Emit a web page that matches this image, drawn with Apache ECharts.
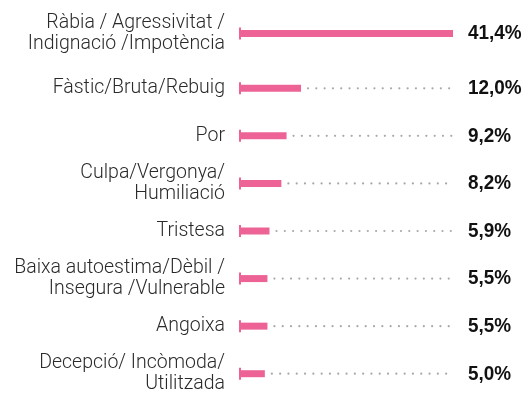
<!DOCTYPE html>
<html>
<head>
<meta charset="utf-8">
<script src="https://cdn.jsdelivr.net/npm/echarts@6/dist/echarts.min.js"></script>
<style>
  html, body { margin: 0; padding: 0; background: #fff; }
  #chart { width: 529px; height: 396px; }
</style>
</head>
<body>
<div id="chart"></div>
<script>
// Emotions and their share of responses (%)
const categories = [
  'Ràbia / Agressivitat /\nIndignació /Impotència',
  'Fàstic/Bruta/Rebuig',
  'Por',
  'Culpa/Vergonya/\nHumiliació',
  'Tristesa',
  'Baixa autoestima/Dèbil /\nInsegura /Vulnerable',
  'Angoixa',
  'Decepció/ Incòmoda/\nUtilitzada'
];
const values = [41.4, 12.0, 9.2, 8.2, 5.9, 5.5, 5.5, 5.0];
const valueLabels = values.map(v => v.toFixed(1).replace('.', ',') + '%');

const PINK = '#ED6396';
const maxValue = Math.max(...values);

// The leading item sits in its own band with a little extra room below it.
const groups = [
  { from: 0, to: 1, top: 10, height: 47 },
  { from: 1, to: values.length, top: 64.5, height: 333 }
];

const grids = [], xAxes = [], yAxes = [], series = [];

groups.forEach((g, gi) => {
  const cats = categories.slice(g.from, g.to);
  const vals = values.slice(g.from, g.to);
  const labels = valueLabels.slice(g.from, g.to);

  grids.push({
    left: 239, right: 76, top: g.top, height: g.height,
    containLabel: false, outerBoundsMode: 'none'
  });
  xAxes.push({ gridIndex: gi, type: 'value', min: 0, max: maxValue, show: false });
  yAxes.push({
    gridIndex: gi, type: 'category', data: cats, inverse: true,
    axisLine: { show: false }, axisTick: { show: false }, splitLine: { show: false },
    axisLabel: {
      margin: 14, align: 'right',
      color: '#2a2a2a', fontSize: 19.5, lineHeight: 21,
      fontFamily: 'Roboto, Liberation Sans, sans-serif', fontWeight: 300
    }
  });

  series.push({
    // start cap, dotted leader to the right edge, and the value label
    type: 'custom',
    xAxisIndex: gi, yAxisIndex: gi,
    data: vals.map((v, i) => [v, i]),
    renderItem: function (params, api) {
      const v = api.value(0);
      const idx = api.value(1);
      const end = api.coord([v, idx]);
      const right = api.coord([maxValue, idx]);
      const start = api.coord([0, idx]);
      const children = [
        {
          type: 'rect',
          shape: { x: start[0], y: start[1] - 6, width: 2, height: 12 },
          style: { fill: PINK }
        },
        {
          type: 'text',
          x: right[0] + 15,
          y: end[1],
          scaleX: 0.9,
          style: {
            text: labels[idx],
            fill: '#111',
            fontSize: 21,
            fontWeight: 'bold',
            fontFamily: 'Liberation Sans, Arial, sans-serif',
            align: 'left',
            verticalAlign: 'middle'
          }
        }
      ];
      for (let x = end[0] + 7; x <= right[0] - 0.5; x += 8.3) {
        children.push({
          type: 'circle',
          shape: { cx: x, cy: end[1], r: 1.1 },
          style: { fill: '#a8a8a8' }
        });
      }
      return { type: 'group', children: children };
    },
    z: 1
  });

  series.push({
    type: 'bar',
    xAxisIndex: gi, yAxisIndex: gi,
    data: vals,
    barWidth: 7,
    itemStyle: { color: PINK },
    z: 2
  });
});

const chart = echarts.init(document.getElementById('chart'), null, { renderer: 'canvas' });

chart.setOption({
  animation: false,
  grid: grids,
  xAxis: xAxes,
  yAxis: yAxes,
  series: series
});
</script>
</body>
</html>
